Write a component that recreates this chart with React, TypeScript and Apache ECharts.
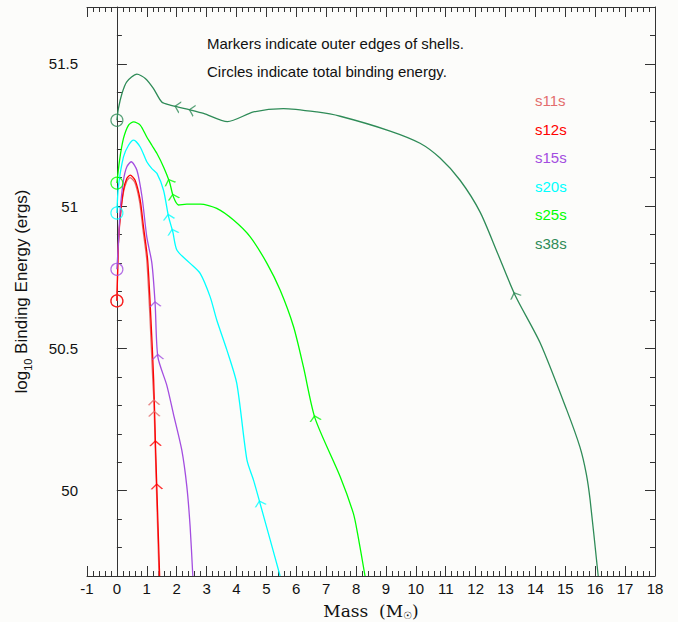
import React, { useEffect, useRef } from "react";
import * as echarts from "echarts";

// ---------- data ----------
const modelNames = ["s11s", "s12s", "s15s", "s20s", "s25s", "s38s"];

// total binding energy (log10 ergs), plotted as circles at mass 0
const totalBindingEnergy = [50.667, 50.667, 50.778, 50.976, 51.081, 51.302];

// [mass (Msun), log10 binding energy (ergs)]
const s11sCurve = [
  [0, 50.667], [0.02, 50.745], [0.05, 50.86], [0.11, 50.955], [0.22, 51.048],
  [0.33, 51.088], [0.44, 51.1], [0.6, 51.083], [0.76, 51.015], [0.87, 50.92],
  [1.0, 50.81], [1.11, 50.6], [1.2, 50.39], [1.24, 50.31], [1.25, 50.27],
  [1.31, 50.05], [1.41, 49.7],
];
const s12sCurve = [
  [0, 50.667], [0.02, 50.752], [0.05, 50.869], [0.11, 50.962], [0.22, 51.056],
  [0.33, 51.097], [0.445, 51.109], [0.61, 51.091], [0.78, 51.021], [0.89, 50.927],
  [1.03, 50.81], [1.14, 50.6], [1.23, 50.39], [1.29, 50.166], [1.335, 50.014],
  [1.43, 49.7],
];
const s15sCurve = [
  [0, 50.778], [0.05, 50.869], [0.11, 50.986], [0.22, 51.091], [0.33, 51.138],
  [0.48, 51.156], [0.67, 51.126], [0.84, 51.033], [1.0, 50.892], [1.17, 50.8],
  [1.28, 50.655], [1.37, 50.47], [1.67, 50.37], [1.89, 50.27], [2.17, 50.143],
  [2.34, 50.014], [2.45, 49.873], [2.54, 49.7],
];
const s20sCurve = [
  [0, 50.976], [0.05, 51.068], [0.22, 51.173], [0.39, 51.214], [0.56, 51.232],
  [0.78, 51.208], [1.0, 51.156], [1.17, 51.132], [1.34, 51.115], [1.56, 51.056],
  [1.73, 50.962], [1.87, 50.91], [2.01, 50.845], [2.45, 50.799], [2.79, 50.763],
  [3.12, 50.681], [3.34, 50.6], [3.68, 50.494], [4.01, 50.377], [4.35, 50.108],
  [4.57, 50.037], [4.79, 49.955], [5.13, 49.826], [5.46, 49.7],
];
const s25sCurve = [
  [0, 51.081], [0.09, 51.162], [0.22, 51.238], [0.39, 51.285], [0.56, 51.296],
  [0.78, 51.285], [1.0, 51.243], [1.17, 51.214], [1.34, 51.185], [1.56, 51.138],
  [1.76, 51.085], [1.89, 51.033], [2.06, 51.004], [2.34, 51.007], [2.79, 51.007],
  [3.34, 50.992], [3.9, 50.951], [4.46, 50.892], [5.02, 50.799], [5.46, 50.705],
  [5.91, 50.576], [6.24, 50.435], [6.63, 50.254], [7.47, 50.049], [7.91, 49.92],
  [8.05, 49.85], [8.3, 49.7],
];
const s38sCurve = [
  [0, 51.302], [0.05, 51.343], [0.17, 51.396], [0.33, 51.437], [0.67, 51.464],
  [0.95, 51.449], [1.22, 51.414], [1.5, 51.366], [1.78, 51.355], [2.03, 51.349],
  [2.51, 51.337], [2.9, 51.326], [3.7, 51.297], [4.57, 51.331], [5.57, 51.343],
  [6.69, 51.331], [7.47, 51.316], [9.14, 51.264], [10.14, 51.221], [10.81, 51.169],
  [11.48, 51.091], [12.15, 50.979], [12.72, 50.838], [13.32, 50.687], [14.16, 50.519],
  [15.05, 50.283], [15.49, 50.153], [15.7, 50.06], [15.83, 49.967], [16.1, 49.7],
];

// outer edges of shells
const s11sMarkers = [[1.24, 50.31], [1.25, 50.27]];
const s12sMarkers = [[1.29, 50.166], [1.335, 50.014]];
const s15sMarkers = [[1.28, 50.655], [1.37, 50.47]];
const s20sMarkers = [[1.73, 50.962], [1.87, 50.91], [4.79, 49.955]];
const s25sMarkers = [[1.76, 51.085], [1.89, 51.033], [6.63, 50.254]];
const s38sMarkers = [[2.03, 51.349], [2.51, 51.337], [13.32, 50.687]];

const curves = [s11sCurve, s12sCurve, s15sCurve, s20sCurve, s25sCurve, s38sCurve];
const markers = [s11sMarkers, s12sMarkers, s15sMarkers, s20sMarkers, s25sMarkers, s38sMarkers];

const yLabelValues = [50, 50.5, 51, 51.5];
const yMinorTickValues = [
  49.7, 49.8, 49.9, 50, 50.1, 50.2, 50.3, 50.4, 50.5, 50.6, 50.7,
  50.8, 50.9, 51, 51.1, 51.2, 51.3, 51.4, 51.5, 51.6, 51.7,
];
const annotationLines = [
  "Markers indicate outer edges of shells.",
  "Circles indicate total binding energy.",
];

// ---------- styles ----------
const modelColors = ["#e36d6d", "#ff0000", "#a34de0", "#00ffff", "#00ff00", "#2e8b57"];
const SANS = "'Liberation Sans', Arial, Helvetica, sans-serif";
const SERIF = "'DejaVu Serif', 'Liberation Serif', serif";
const AXIS = "#333333";
const TEXT = "#111111";
const CHEVRON = "path://M0,6 L6,0 L12,6";

export default function App() {
  const ref = useRef<HTMLDivElement>(null);

  useEffect(() => {
    if (!ref.current) return;
    const chart = echarts.init(ref.current, null, { renderer: "svg" });

    const xBase = (position: string, showLabel: boolean, withName: boolean) => ({
      type: "value",
      position,
      min: -1,
      max: 18,
      interval: 1,
      axisLine: { show: true, lineStyle: { color: AXIS, width: 1 } },
      axisTick: { show: true, inside: true, length: 10, lineStyle: { color: AXIS } },
      minorTick: { show: true, splitNumber: 5, length: 5, lineStyle: { color: AXIS } },
      splitLine: { show: false },
      minorSplitLine: { show: false },
      axisLabel: {
        show: showLabel,
        color: TEXT,
        fontSize: 15,
        fontFamily: SANS,
        margin: 5,
      },
      ...(withName
        ? {
            name: "Mass  (M{sub|☉})",
            nameLocation: "middle",
            nameGap: 19,
            nameTextStyle: {
              color: TEXT,
              fontSize: 17,
              fontFamily: SERIF,
              lineHeight: 20,
              rich: {
                sub: { fontSize: 10, fontFamily: "'DejaVu Sans', sans-serif", lineHeight: 10, verticalAlign: "bottom", color: TEXT },
              },
            },
          }
        : {}),
    });

    const yBase = (position: string, major: boolean, showLine: boolean, withLabels: boolean) => ({
      type: "value",
      position,
      min: 49.7,
      max: 51.7,
      axisLine: { show: showLine, lineStyle: { color: AXIS, width: 1 } },
      axisTick: {
        show: true,
        inside: true,
        length: major ? 10 : 5,
        customValues: major ? yLabelValues : yMinorTickValues,
        lineStyle: { color: AXIS },
      },
      splitLine: { show: false },
      axisLabel: {
        show: withLabels,
        customValues: yLabelValues,
        color: TEXT,
        fontSize: 15,
        fontFamily: SANS,
        margin: 9,
      },
      ...(withLabels
        ? {
            name: "log{sub|10} Binding Energy (ergs)",
            nameLocation: "middle",
            nameGap: 54,
            nameTextStyle: {
              color: TEXT,
              fontSize: 17,
              fontFamily: SANS,
              lineHeight: 24,
              rich: {
                sub: { fontSize: 11, fontFamily: SANS, lineHeight: 11, verticalAlign: "bottom", color: TEXT },
              },
            },
          }
        : {}),
    });

    const lineSeries = modelNames.map((name, i) => ({
      id: "curve-" + name,
      name,
      type: "line",
      data: curves[i],
      showSymbol: false,
      smooth: 0.25,
      silent: true,
      lineStyle: { color: modelColors[i], width: 1.3 },
      z: 2 + i,
    }));

    const circleSeries = {
      id: "circles",
      type: "scatter",
      symbol: "circle",
      symbolSize: 12,
      silent: true,
      z: 10,
      data: modelNames.map((name, i) => ({
        name,
        value: [0, totalBindingEnergy[i]],
        itemStyle: { color: "transparent", borderColor: modelColors[i], borderWidth: 1.2 },
      })),
    };

    const markerSeries = modelNames.map((name, i) => ({
      id: "markers-" + name,
      type: "scatter",
      symbol: CHEVRON,
      symbolSize: [11, 5],
      silent: true,
      z: 11,
      itemStyle: { color: "transparent", borderColor: modelColors[i], borderWidth: 1.2 },
      data: markers[i].map((p) => ({ value: p })),
    }));

    const graphics: any[] = [
      ...annotationLines.map((t, k) => ({
        type: "text",
        left: 207,
        top: 36 + k * 28,
        silent: true,
        style: { text: t, fontSize: 15, fontFamily: SANS, fill: TEXT },
      })),
      ...modelNames.map((name, i) => ({
        type: "text",
        left: 535,
        top: 93 + i * 28.5,
        silent: true,
        style: { text: name, fontSize: 15, fontFamily: SANS, fill: modelColors[i] },
      })),
    ];

    chart.setOption({
      animation: false,
      backgroundColor: "#fcfcfa",
      grid: { left: 87, right: 23, top: 7, bottom: 46, containLabel: false, outerBoundsMode: "none" },
      xAxis: [xBase("bottom", true, true), xBase("top", false, false)],
      yAxis: [
        yBase("left", true, true, true),
        yBase("left", false, false, false),
        yBase("right", true, true, false),
        yBase("right", false, false, false),
      ],
      series: [...lineSeries, circleSeries, ...markerSeries],
      graphic: graphics,
    });

    // orient each shell marker along its curve, pointing back toward the centre
    const finder = { xAxisIndex: 0, yAxisIndex: 0 };
    const rotated = modelNames.map((name, i) => {
      const curve = curves[i];
      return {
        id: "markers-" + name,
        data: markers[i].map((p) => {
          let k = 0;
          while (k < curve.length - 2 && curve[k + 1][0] < p[0]) k++;
          const a = chart.convertToPixel(finder as any, curve[k]) as number[];
          const b = chart.convertToPixel(finder as any, curve[k + 1]) as number[];
          const dx = a[0] - b[0];
          const dy = a[1] - b[1];
          const rot = (Math.atan2(-dy, dx) * 180) / Math.PI - 90;
          return { value: p, symbolRotate: rot };
        }),
      };
    });
    chart.setOption({ series: rotated });

    return () => chart.dispose();
  }, []);

  return (
    <div style={{ position: "fixed", left: 0, top: 0, width: 678, height: 622, background: "#fcfcfa" }}>
      <div ref={ref} style={{ width: 678, height: 622 }} />
    </div>
  );
}
